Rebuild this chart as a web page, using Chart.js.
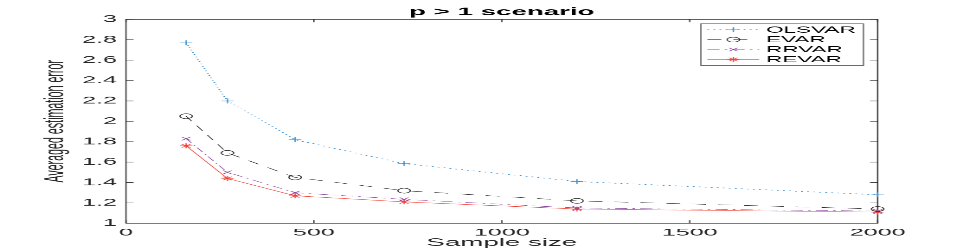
<!DOCTYPE html>
<html>
<head>
<meta charset="utf-8">
<title>p > 1 scenario</title>
<script src="https://cdn.jsdelivr.net/npm/chart.js@4.4.1/dist/chart.umd.min.js"></script>
<style>
  html, body { margin: 0; padding: 0; background: #fff; overflow: hidden; }
  /* the figure is drawn at 560x365 and stretched to 969x251 like the original */
  #wrap { position: absolute; left: 0; top: 0; width: 560px; height: 365px;
          transform: scale(1.7304, 0.6877); transform-origin: 0 0; }
</style>
</head>
<body>
<div id="wrap"><canvas id="chart" width="560" height="365"></canvas></div>
<script>
const sampleSizes = [160, 270, 450, 740, 1200, 2000];
const olsvar = [2.77, 2.20, 1.82, 1.585, 1.41, 1.28];
const evar   = [2.05, 1.69, 1.45, 1.32, 1.22, 1.14];
const rrvar  = [1.83, 1.50, 1.30, 1.235, 1.15, 1.12];
const revar  = [1.76, 1.44, 1.27, 1.21, 1.14, 1.11];

const xTicks = [0, 500, 1000, 1500, 2000];
const yTicks = [1, 1.2, 1.4, 1.6, 1.8, 2, 2.2, 2.4, 2.6, 2.8, 3];

const FONT = '"Liberation Sans", Arial, Helvetica, sans-serif';
const AXIS_COLOR = "#262626";
const TICK_LEN = 4.4;

function series(label, values, color, dash, marker, width) {
  return {
    label: label,
    data: sampleSizes.map((n, i) => ({ x: n, y: values[i] })),
    borderColor: color,
    borderWidth: width,
    borderDash: dash,
    pointStyle: marker,
    pointRadius: 3.6,
    pointHoverRadius: 3.6,
    pointBorderColor: color,
    pointBackgroundColor: "rgba(0,0,0,0)",
    pointBorderWidth: 0.7,
    tension: 0,
    fill: false,
    clip: false
  };
}

// MATLAB style box with inward ticks on all four sides
const axesBox = {
  id: "axesBox",
  beforeDatasetsDraw(chart) {
    const { ctx, chartArea: a, scales: { x, y } } = chart;
    ctx.save();
    ctx.strokeStyle = AXIS_COLOR;
    ctx.lineWidth = 0.7;
    ctx.strokeRect(a.left, a.top, a.right - a.left, a.bottom - a.top);
    ctx.beginPath();
    x.ticks.forEach(t => {
      const px = x.getPixelForValue(t.value);
      ctx.moveTo(px, a.bottom); ctx.lineTo(px, a.bottom - TICK_LEN);
      ctx.moveTo(px, a.top); ctx.lineTo(px, a.top + TICK_LEN);
    });
    y.ticks.forEach(t => {
      const py = y.getPixelForValue(t.value);
      ctx.moveTo(a.left, py); ctx.lineTo(a.left + TICK_LEN, py);
      ctx.moveTo(a.right, py); ctx.lineTo(a.right - TICK_LEN, py);
    });
    ctx.stroke();
    ctx.restore();
  }
};

// legend box in the upper right corner, line sample + marker like MATLAB
const boxLegend = {
  id: "boxLegend",
  afterDraw(chart) {
    const { ctx, chartArea: a } = chart;
    const w = 94, rowH = 14.4;
    const h = rowH * chart.data.datasets.length + 3;
    const left = a.right - 8.2 - w;
    const top = a.top + 6.4;
    ctx.save();
    ctx.fillStyle = "#fff";
    ctx.fillRect(left, top, w, h);
    ctx.strokeStyle = "#555";
    ctx.lineWidth = 0.7;
    ctx.strokeRect(left, top, w, h);
    chart.data.datasets.forEach((ds, i) => {
      const cy = top + 8.7 + i * rowH;
      ctx.strokeStyle = ds.borderColor;
      ctx.lineWidth = ds.borderWidth;
      ctx.setLineDash(ds.borderDash);
      ctx.beginPath();
      ctx.moveTo(left + 3.8, cy);
      ctx.lineTo(left + 33.7, cy);
      ctx.stroke();
      ctx.setLineDash([]);
      ctx.lineWidth = ds.pointBorderWidth;
      ctx.fillStyle = ds.pointBackgroundColor;
      Chart.helpers.drawPoint(ctx, {
        pointStyle: ds.pointStyle, rotation: 0,
        radius: ds.pointRadius, borderWidth: ds.pointBorderWidth
      }, left + 18.8, cy);
      ctx.fillStyle = "#000";
      ctx.font = "13px " + FONT;
      ctx.textBaseline = "middle";
      ctx.textAlign = "left";
      ctx.fillText(ds.label, left + 37.7, cy + 0.5);
    });
    ctx.restore();
  }
};

new Chart(document.getElementById("chart"), {
  type: "line",
  data: {
    datasets: [
      series("OLSVAR", olsvar, "#2E8BD0", [1, 2.5], "cross", 0.9),
      series("EVAR", evar, "#222222", [8, 7], "circle", 0.6),
      series("RRVAR", rrvar, "#8E44A0", [7, 3, 1.5, 3], "crossRot", 0.6),
      series("REVAR", revar, "#F23A2E", [], "star", 0.6)
    ]
  },
  options: {
    responsive: false,
    animation: false,
    devicePixelRatio: 2,
    layout: { padding: { left: 0, right: 52.8, top: 0, bottom: 0 } },
    scales: {
      x: {
        type: "linear",
        min: 0,
        max: 2000,
        afterBuildTicks: s => { s.ticks = xTicks.map(v => ({ value: v })); },
        afterFit: s => { s.height = 40.3; },
        grid: { display: false, drawTicks: false },
        border: { display: false },
        ticks: {
          padding: 5,
          color: AXIS_COLOR,
          font: { family: FONT, size: 14.5 },
          maxRotation: 0,
          callback: v => String(v)
        },
        title: {
          display: true,
          text: "Sample size",
          color: AXIS_COLOR,
          font: { family: FONT, size: 16 },
          padding: { top: 0, bottom: 2.5 }
        }
      },
      y: {
        min: 1,
        max: 3,
        afterBuildTicks: s => { s.ticks = yTicks.map(v => ({ value: v })); },
        afterFit: s => { s.width = 72.8; },
        grid: { display: false, drawTicks: false },
        border: { display: false },
        ticks: {
          padding: 5.2,
          color: AXIS_COLOR,
          font: { family: FONT, size: 14.5 },
          callback: v => String(Math.round(v * 10) / 10)
        },
        title: {
          display: true,
          text: "Averaged estimation error",
          color: AXIS_COLOR,
          font: { family: FONT, size: 15.5 },
          padding: { top: 23, bottom: 0 }
        }
      }
    },
    plugins: {
      legend: { display: false },
      tooltip: { enabled: false },
      title: {
        display: true,
        text: "p > 1 scenario",
        fullSize: false,
        color: "#000",
        font: { family: FONT, size: 16, weight: "bold" },
        padding: { top: 8.2, bottom: 0.7 }
      }
    }
  },
  plugins: [axesBox, boxLegend]
});
</script>
</body>
</html>
